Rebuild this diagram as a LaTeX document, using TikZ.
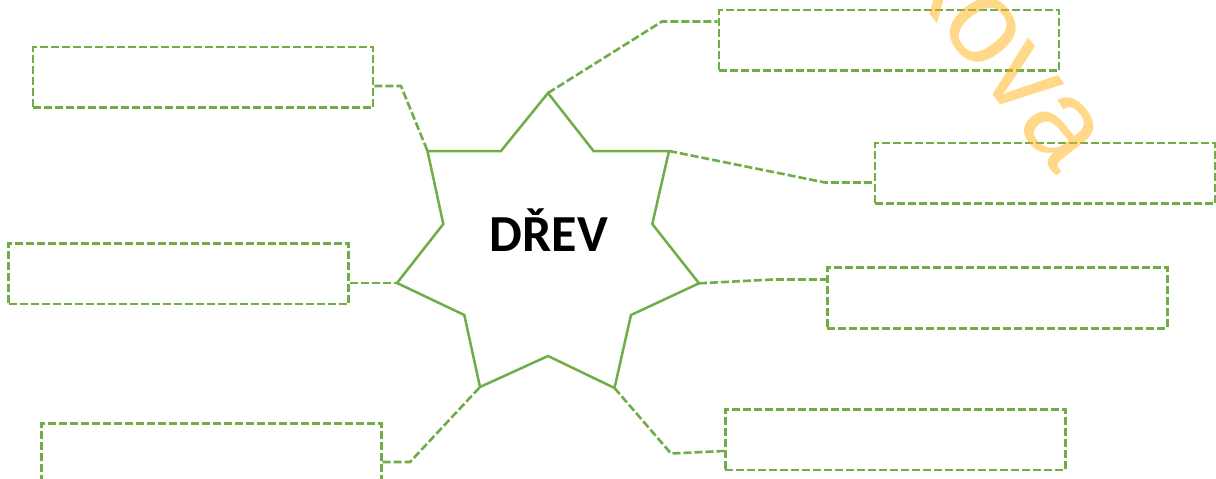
\documentclass[tikz,border=0pt]{standalone}
\usepackage{fontspec}
\newfontfamily\carlito{Carlito}
\newfontfamily\wmfont{Liberation Sans}
\definecolor{ogreen}{RGB}{112,173,71}
\definecolor{wmorange}{RGB}{255,180,20}
\begin{document}
\begin{tikzpicture}[x=1pt,y=-1pt,
  box/.style={draw=ogreen,line width=2.6pt,dash pattern=on 8pt off 3pt,minimum width=340pt,minimum height=60.5pt,inner sep=0pt},
  conn/.style={draw=ogreen,line width=2.6pt,dash pattern=on 8pt off 3pt},
  starline/.style={draw=ogreen,line width=2.5pt,line join=miter}]
\clip (0,0) rectangle (1216,479);
\fill[white] (0,0) rectangle (1216,479);
% star points
\coordinate (o1) at (548,93);
\coordinate (i1) at (593.5,151);
\coordinate (o2) at (669,151);
\coordinate (i2) at (652.3,224);
\coordinate (o3) at (699,283.3);
\coordinate (i3) at (631,315);
\coordinate (o4) at (614.5,388);
\coordinate (i4) at (548,356);
\coordinate (o5) at (480,387);
\coordinate (i5) at (464.3,315);
\coordinate (o6) at (397,283);
\coordinate (i6) at (443.3,224);
\coordinate (o7) at (427.5,151);
\coordinate (i7) at (501,151);
\draw[starline] (o1) -- (i1) -- (o2) -- (i2) -- (o3) -- (i3) -- (o4) -- (i4) -- (o5) -- (i5) -- (o6) -- (i6) -- (o7) -- (i7) -- cycle;
\node[anchor=base,font=\carlito\bfseries\fontsize{52}{60}\selectfont] (title) at (549,251.5) {DŘEV};
% boxes
\node[box] (b1) at (203,77.3) {};
\node[box] (b2) at (178.7,273.7) {};
\node[box] (b3) at (211.3,454) {};
\node[box] (b4) at (889,40.3) {};
\node[box] (b5) at (1045,173.3) {};
\node[box] (b6) at (997.3,298) {};
\node[box] (b7) at (895.3,439.7) {};
% bend points
\coordinate (k1) at (401,86);
\coordinate (k3) at (410,462);
\coordinate (k4) at (662,21.5);
\coordinate (k5) at (825,182.5);
\coordinate (k6) at (773,279.5);
\coordinate (k7) at (671,453.5);
\coordinate (e7) at (725,451);
% connectors
\draw[conn] (b1.east |- k1) -- (k1) -- (o7);
\draw[conn] (b2.east |- o6) -- (o6);
\draw[conn] (b3.east |- k3) -- (k3) -- (o5);
\draw[conn] (o1) -- (k4) -- (b4.west |- k4);
\draw[conn] (o2) -- (k5) -- (b5.west |- k5);
\draw[conn] (o3) -- (k6) -- (b6.west |- k6);
\draw[conn] (o4) -- (k7) -- (b7.west |- e7);
% watermark
\node[anchor=base,rotate=-52,text=wmorange,text opacity=0.5,inner sep=0pt,font=\wmfont\fontsize{120}{140}\selectfont] (wm) at (979,76.1) {kova};
\end{tikzpicture}
\end{document}
